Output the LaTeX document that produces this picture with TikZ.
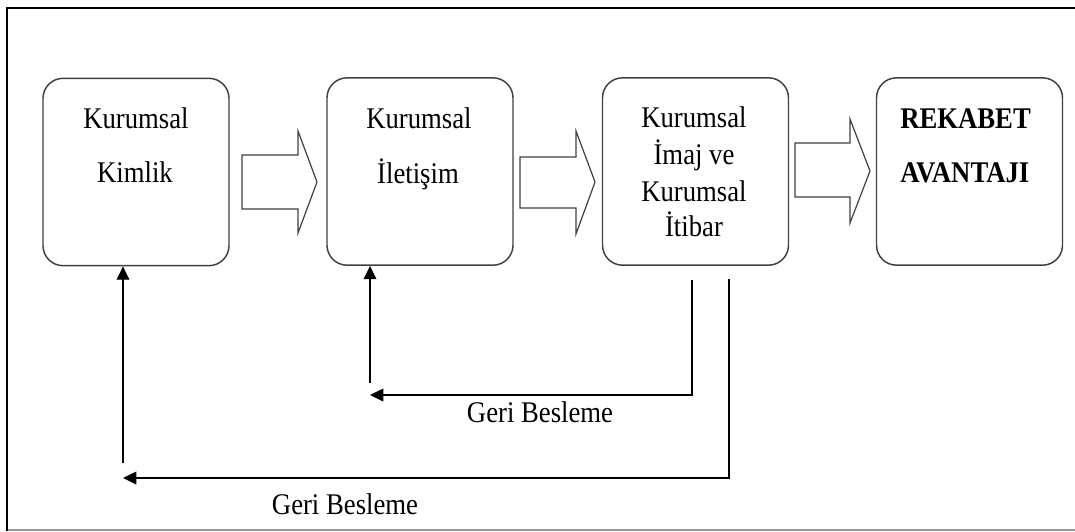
\documentclass[tikz,border=0pt]{standalone}
\usepackage{fontspec}
\setmainfont{Liberation Serif}[FakeStretch=0.89]
\usetikzlibrary{arrows.meta,calc}
\begin{document}
\begin{tikzpicture}[x=0.75pt,y=-0.75pt,
  box/.style={draw=black!75, line width=1.1pt, rounded corners=15pt,
    minimum width=139.5pt, minimum height=140.5pt, inner sep=0pt},
  lbl/.style={font=\fontsize{22.5}{26}\selectfont, anchor=base, inner sep=0pt},
  blbl/.style={font=\fontsize{22.5}{26}\selectfont\bfseries, anchor=base west, inner sep=0pt},
  blockarrow/.style={draw=black!75, line width=0.9pt, fill=white, line join=miter},
  fb/.style={draw=black, line width=1.1pt},
  fbarrow/.style={fb, -{Triangle[length=10pt,width=9.5pt]}}]
\useasboundingbox (0,0) rectangle (1075,532);
\clip (0,0) rectangle (1075,532);

% outer frame
\draw[black!40, line width=1.2pt] (7,530) -- (1080,530);
\draw[black, line width=1.6pt] (7,531) -- (7,8) -- (1080,8);

% stage boxes
\node[box] (b1) at (136,172) {};
\node[box] (b2) at (420,171.5) {};
\node[box] (b3) at (695.5,171.5) {};
\node[box] (b4) at (969.5,171.5) {};

% box texts
\node[lbl] (t1a) at (136,128) {Kurumsal};
\node[lbl] (t1b) at (135,182) {Kimlik};
\node[lbl] (t2a) at (419,128) {Kurumsal};
\node[lbl] (t2b) at (418,183) {İletişim};
\node[lbl] (t3a) at (694,127) {Kurumsal};
\node[lbl] (t3b) at (694,164) {İmaj ve};
\node[lbl] (t3c) at (694,201) {Kurumsal};
\node[lbl] (t3d) at (694,236) {İtibar};
\node[blbl] (t4a) at (900,128) {REKABET};
\node[blbl] (t4b) at (900,182) {AVANTAJI};

% block arrows between the stages
\draw[blockarrow] (242,155) -- (298,155) -- (298,131) -- (317,182) -- (298,233) -- (298,209) -- (242,209) -- cycle;
\draw[blockarrow] (520,157) -- (576,157) -- (576,131) -- (595,182) -- (576,234) -- (576,208) -- (520,208) -- cycle;
\draw[blockarrow] (795,143) -- (850,143) -- (850,119) -- (870,171) -- (850,223) -- (850,197) -- (795,197) -- cycle;

% feedback loops
\coordinate (f1s) at (692,280);
\coordinate (f1e) at (370,395);
\coordinate (f1u) at (370,383);
\coordinate (f2s) at (729,279);
\coordinate (f2e) at (123,478);
\coordinate (f2u) at (123,463);

\draw[fbarrow] (f1s) |- (f1e);
\draw[fbarrow] (f1u) -- (f1u |- b2.south);
\draw[fbarrow] (f2s) |- (f2e);
\draw[fbarrow] (f2u) -- (f2u |- b1.south);

\node[lbl] (g1) at (540,422) {Geri Besleme};
\node[lbl] (g2) at (345,514) {Geri Besleme};
\end{tikzpicture}
\end{document}
